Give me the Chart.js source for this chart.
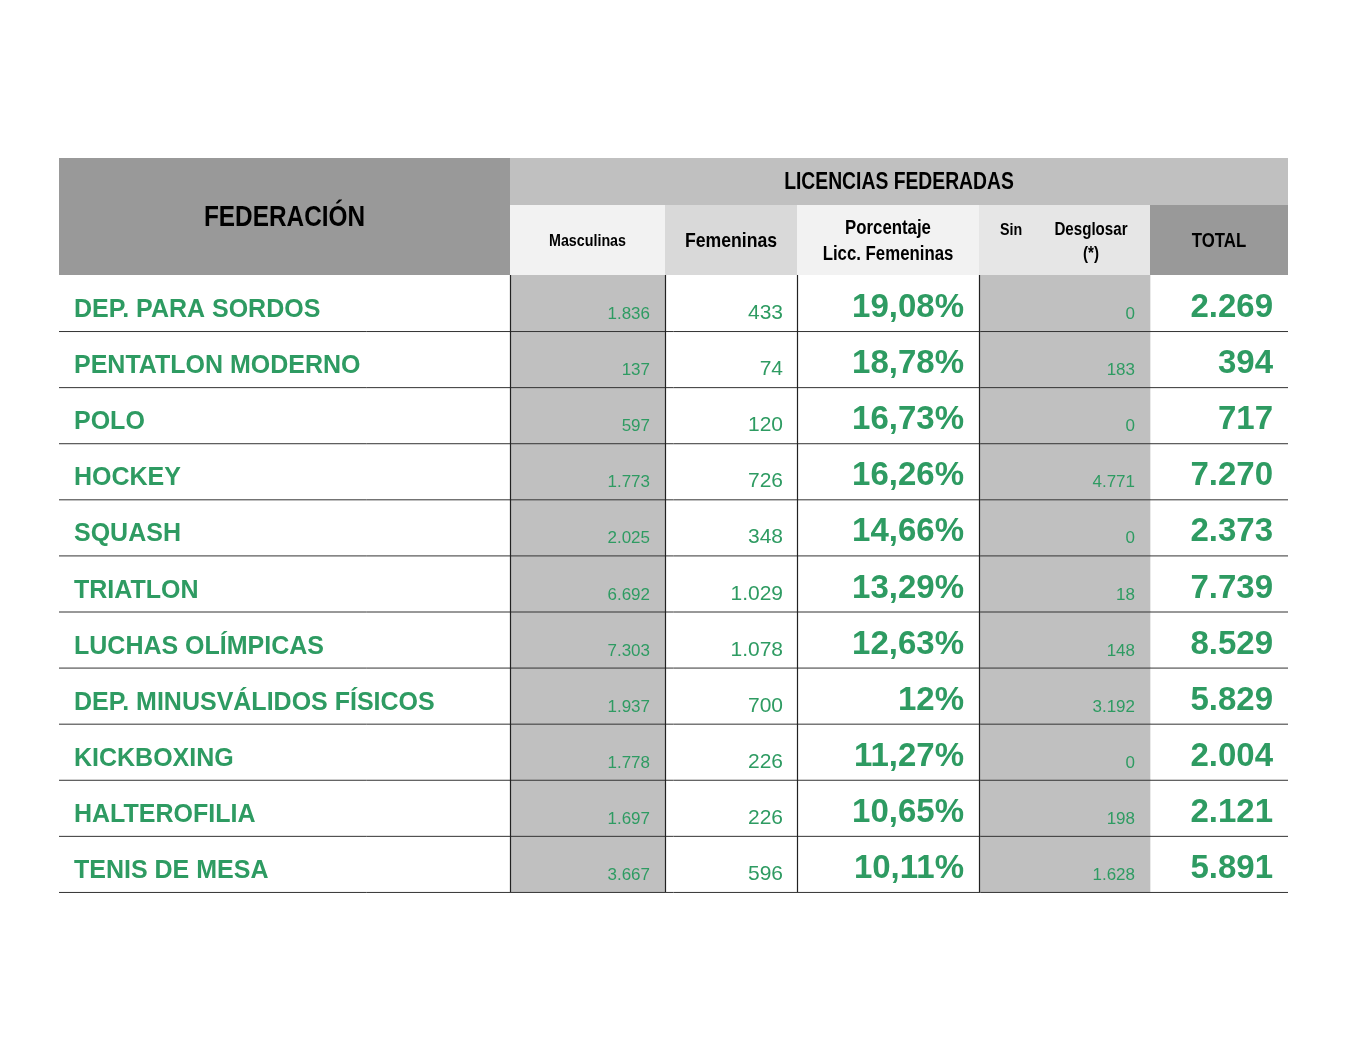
<!DOCTYPE html>
<html><head><meta charset="utf-8">
<script src="https://cdn.jsdelivr.net/npm/chart.js@4"></script>
<style>html,body{margin:0;padding:0;background:#fff}#w{width:1365px;height:1054px}</style>
</head><body><div id="w"><canvas id="c"></canvas></div>
<script>
const federaciones=["DEP. PARA SORDOS","PENTATLON MODERNO","POLO","HOCKEY","SQUASH","TRIATLON","LUCHAS OLÍMPICAS","DEP. MINUSVÁLIDOS FÍSICOS","KICKBOXING","HALTEROFILIA","TENIS DE MESA"];
const masculinas=["1.836","137","597","1.773","2.025","6.692","7.303","1.937","1.778","1.697","3.667"];
const femeninas=["433","74","120","726","348","1.029","1.078","700","226","226","596"];
const porcentaje=["19,08%","18,78%","16,73%","16,26%","14,66%","13,29%","12,63%","12%","11,27%","10,65%","10,11%"];
const sinDesglosar=["0","183","0","4.771","0","18","148","3.192","0","198","1.628"];
const total=["2.269","394","717","7.270","2.373","7.739","8.529","5.829","2.004","2.121","5.891"];
const headers=["FEDERACIÓN","LICENCIAS FEDERADAS","Masculinas","Femeninas","Porcentaje\nLicc. Femeninas","Sin","Desglosar\n(*)","TOTAL"];

const edges=[0,451,606,738,920,1091,1229];
const green="#2e9b62";
const colFill=["#ffffff","#c0c0c0","#ffffff","#ffffff","#c0c0c0","#ffffff"];
const datasets=colFill.map((f,i)=>({data:federaciones.map(()=>[edges[i],edges[i+1]]),backgroundColor:f,borderWidth:0,barPercentage:1,categoryPercentage:1}));

const SANS='"Liberation Sans",Arial,sans-serif';

function nt(c,t,x,y,size){ // narrow bold text, centered
 c.save();c.translate(x,y);c.scale(0.84,1);c.font="bold "+size+"px "+SANS;c.fillText(t,0,0);c.restore();
}

const tablePlugin={id:'tbl',afterDatasetsDraw(ch){
 const c=ch.ctx,x=ch.scales.x,y=ch.scales.y;
 const X=i=>x.getPixelForValue(edges[i]);
 const top=ch.chartArea.top,h1=top-117,h2=top-70;
 c.save();
 c.fillStyle="#999999";c.fillRect(X(0),h1,X(1)-X(0),117);
 c.fillStyle="#c0c0c0";c.fillRect(X(1),h1,X(6)-X(1),47);
 const sub=["#f2f2f2","#d9d9d9","#f2f2f2","#e6e6e6","#999999"];
 sub.forEach((f,i)=>{c.fillStyle=f;c.fillRect(X(i+1),h2,X(i+2)-X(i+1),70);});
 c.fillStyle="#000";c.textAlign="center";c.textBaseline="middle";
 nt(c,headers[0],(X(0)+X(1))/2,h1+60,29);
 nt(c,headers[1],(X(1)+X(6))/2,h1+25,23);
 nt(c,headers[2],(X(1)+X(2))/2,h2+36,17);
 nt(c,headers[3],(X(2)+X(3))/2,h2+36,21);
 headers[4].split("\n").forEach((t,k)=>nt(c,t,(X(3)+X(4))/2,h2+23+k*26,20));
 nt(c,headers[5],X(4)+32,h2+25,17);
 headers[6].split("\n").forEach((t,k)=>nt(c,t,X(4)+112,h2+25+k*24,18));
 nt(c,headers[7],(X(5)+X(6))/2,h2+36,20);
 federaciones.forEach((n,r)=>{
  const yc=y.getPixelForValue(r),yb=yc+28;
  c.textBaseline="alphabetic";
  c.fillStyle=green;c.textAlign="left";c.font="bold 25px "+SANS;c.fillText(n,X(0)+15,yc+14);
  c.textAlign="right";
  c.font="17px "+SANS;c.fillText(masculinas[r],X(2)-15,yc+16);
  c.font="21px "+SANS;c.fillText(femeninas[r],X(3)-14,yc+16);
  c.font="bold 33px "+SANS;c.fillText(porcentaje[r],X(4)-15,yc+14);
  c.font="17px "+SANS;c.fillText(sinDesglosar[r],X(5)-15,yc+16);
  c.font="bold 33px "+SANS;c.fillText(total[r],X(6)-15,yc+14);
  c.strokeStyle="#333";c.lineWidth=1;
  c.beginPath();c.moveTo(X(0),yb+0.5);c.lineTo(X(6),yb+0.5);c.stroke();
 });
 c.strokeStyle="#222";c.lineWidth=1.2;
 [1,2,3,4].forEach(i=>{c.beginPath();c.moveTo(Math.round(X(i))+0.5,top);c.lineTo(Math.round(X(i))+0.5,ch.chartArea.bottom);c.stroke();});
 c.restore();
}};

new Chart(document.getElementById('c'),{type:'bar',
 data:{labels:federaciones,datasets},
 options:{indexAxis:'y',responsive:true,maintainAspectRatio:false,animation:false,
  layout:{padding:{left:59,right:77,top:275,bottom:162}},
  plugins:{legend:{display:false},tooltip:{enabled:false}},
  scales:{x:{type:'linear',min:0,max:1229,display:false},
          y:{type:'category',display:false,stacked:true}}},
 plugins:[tablePlugin]});
</script></body></html>
